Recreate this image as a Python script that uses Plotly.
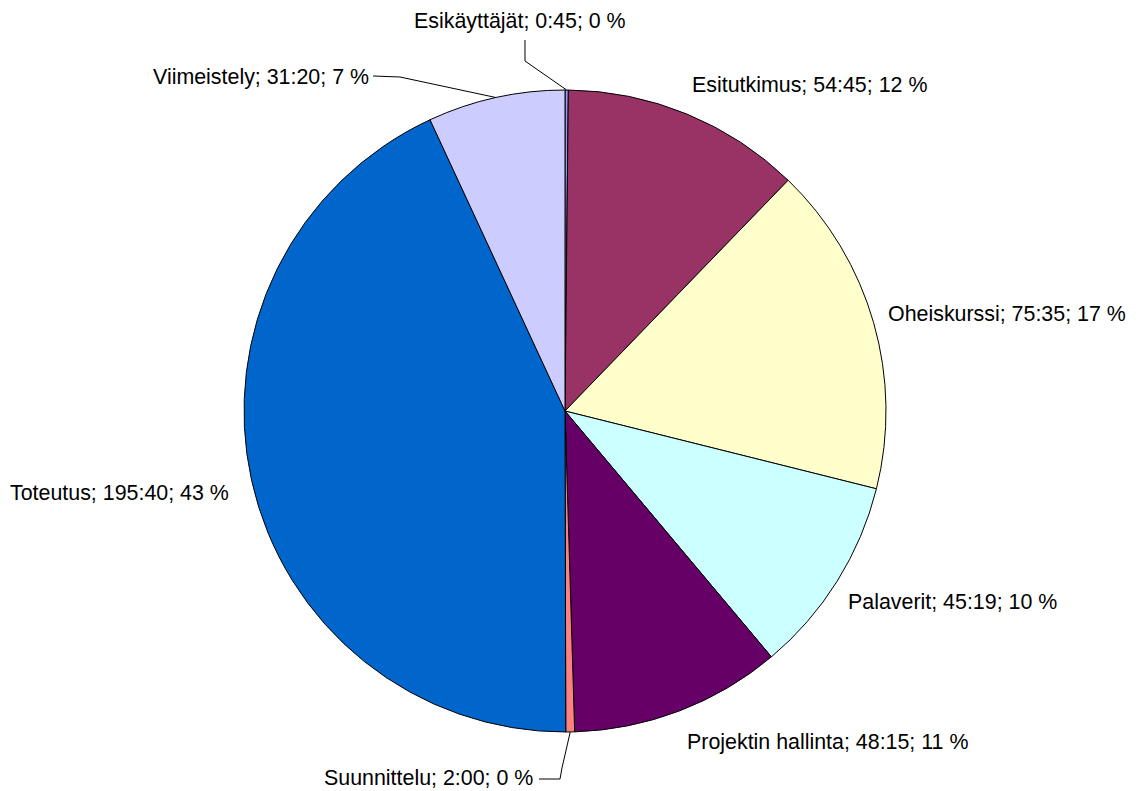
import math
import plotly.graph_objects as go

# ---- data ----
categories = ["Esikäyttäjät", "Esitutkimus", "Oheiskurssi", "Palaverit",
              "Projektin hallinta", "Suunnittelu", "Toteutus", "Viimeistely"]
hours = [0, 54, 75, 45, 48, 2, 195, 31]
minutes = [45, 45, 35, 19, 15, 0, 40, 20]

# ---- styles / layout ----
colors = ["#9999FF", "#993366", "#FFFFCC", "#CCFFFF",
          "#660066", "#FF8080", "#0066CC", "#CCCCFF"]
W, H = 1141, 791
CX, CY, R = 565, 411, 321
# label anchor (left x, middle y) in pixels
label_pos = [(412, 21), (690, 85), (886, 314), (846, 602),
             (685, 742), (322, 778), (8, 493), (151, 77)]
# leader line bend points in pixels (None = no leader)
leader_bends = [[(525, 40), (525, 61)], None, None, None, None,
                [(539, 779), (560, 779), (562, 768)], None,
                [(373, 76), (400, 77)]]

values = [h * 60 + m for h, m in zip(hours, minutes)]
total = sum(values)

def fmt(i):
    pct = round(100 * values[i] / total)
    return f"{categories[i]}; {hours[i]}:{minutes[i]:02d}; {pct} %"

fig = go.Figure(go.Pie(
    labels=categories, values=values, sort=False, direction="clockwise",
    rotation=0, textinfo="none", textposition="none", hoverinfo="label+value",
    marker=dict(colors=colors, line=dict(color="black", width=1)),
    domain=dict(x=[(CX - R) / W, (CX + R) / W], y=[1 - (CY + R) / H, 1 - (CY - R) / H]),
    showlegend=False,
))

def px2p(x, y):
    return x / W, 1 - y / H

annotations = []
shapes = []
cum = 0
for i, v in enumerate(values):
    mid = (cum + v / 2) / total * 2 * math.pi
    cum += v
    lx, ly = label_pos[i]
    px, py = px2p(lx, ly)
    annotations.append(dict(x=px, y=py, xref="paper", yref="paper", text=fmt(i),
                            showarrow=False, xanchor="left", yanchor="middle",
                            font=dict(family="Arial, Liberation Sans", size=21.4, color="black")))
    if leader_bends[i]:
        ex = CX + R * math.sin(mid)
        ey = CY - R * math.cos(mid)
        pts = leader_bends[i] + [(ex, ey)]
        path = "M " + " L ".join(f"{p[0]/W:.5f},{1 - p[1]/H:.5f}" for p in pts)
        shapes.append(dict(type="path", path=path, xref="paper", yref="paper",
                           line=dict(color="black", width=1)))

fig.update_layout(width=W, height=H, margin=dict(l=0, r=0, t=0, b=0),
                  paper_bgcolor="white", plot_bgcolor="white",
                  annotations=annotations, shapes=shapes)
fig.write_html("out.html", config={"displayModeBar": False},
               post_script="document.body.style.margin='0';document.body.style.overflow='hidden';")
